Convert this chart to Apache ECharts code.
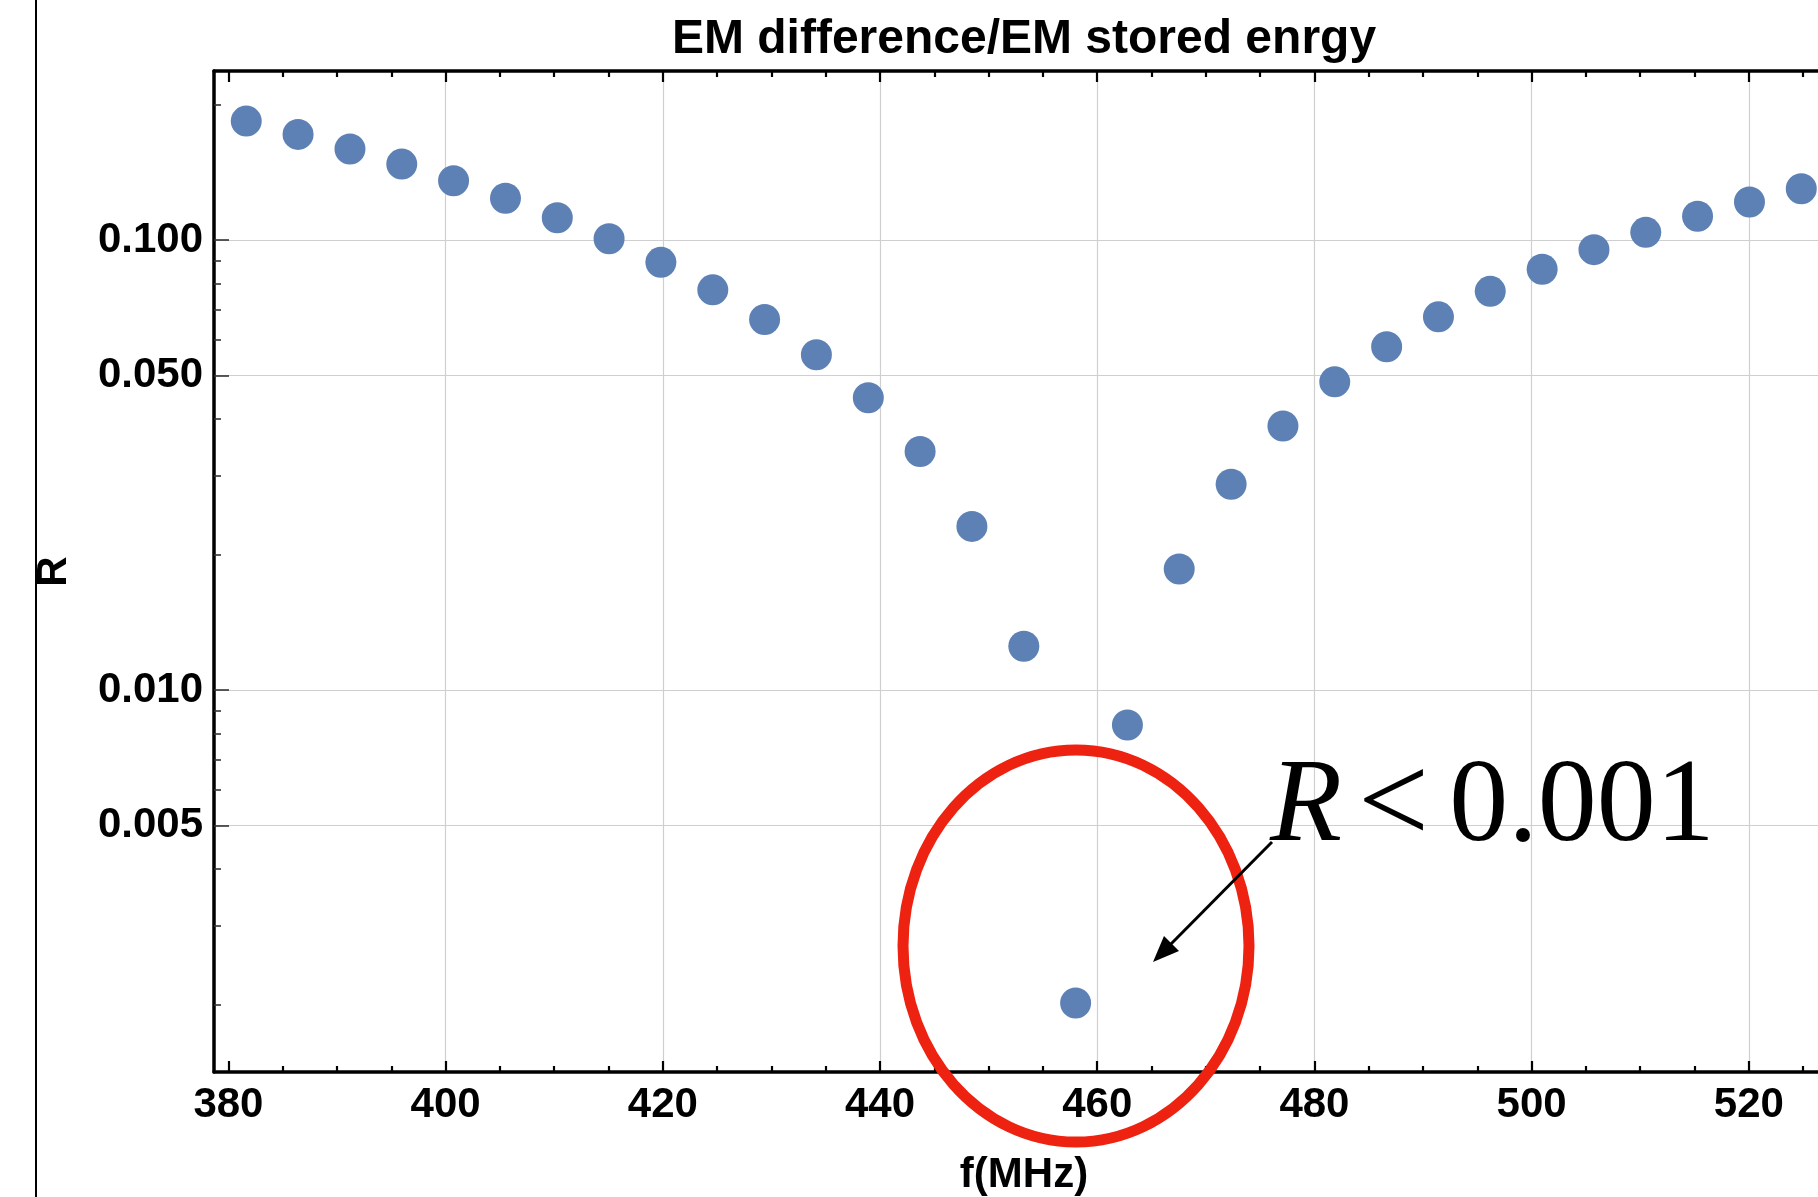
<!DOCTYPE html>
<html><head><meta charset="utf-8">
<script src="https://cdn.jsdelivr.net/npm/echarts@6/dist/echarts.min.js"></script>
<style>html,body{margin:0;padding:0;background:#fff}#c{width:1818px;height:1197px}</style>
</head><body><div id="c"></div>
<script>
// ---- data ----
const freqMHz = [381.64, 386.41, 391.19, 395.96, 400.73, 405.51, 410.28, 415.05, 419.82, 424.60,
  429.37, 434.14, 438.92, 443.69, 448.46, 453.24, 458.01, 462.78, 467.55, 472.33,
  477.10, 481.87, 486.65, 491.42, 496.19, 500.97, 505.74, 510.51, 515.28, 520.06, 524.83];
const ratioR = [0.1838, 0.1717, 0.1593, 0.1475, 0.1354, 0.1238, 0.1121, 0.1007, 0.0892, 0.0775,
  0.0666, 0.0556, 0.0446, 0.0339, 0.0231, 0.01251, 0.002015, 0.00836, 0.01857, 0.02865,
  0.0386, 0.0484, 0.0579, 0.0675, 0.0769, 0.0861, 0.0952, 0.1040, 0.1129, 0.1215, 0.1300];
const xMajorTicks = [380, 400, 420, 440, 460, 480, 500, 520];
const xMinorTicks = [385, 390, 395, 405, 410, 415, 425, 430, 435, 445, 450, 455, 465, 470, 475, 485, 490, 495, 505, 510, 515, 525];
const xGridTicks = [400, 420, 440, 460, 480, 500, 520];
const yMajorTicks = [0.1, 0.05, 0.01, 0.005];
const yMinorTicks = [0.2, 0.09, 0.08, 0.07, 0.06, 0.04, 0.03, 0.02, 0.009, 0.008, 0.007, 0.006, 0.004, 0.003, 0.002];
const titleText = 'EM difference/EM stored enrgy';
const xName = 'f(MHz)';
const yName = 'R';

const X_MIN = 378.67, X_MAX = 526.37;
const Y_MIN = 0.001416, Y_MAX = 0.2375;
const FONT = '"Liberation Sans", Arial, sans-serif';
const SERIF = '"Liberation Serif", serif';

const chart = echarts.init(document.getElementById('c'), null, {renderer: 'canvas'});

function xAx(o) {
  return Object.assign({
    type: 'value', min: X_MIN, max: X_MAX, gridIndex: 0, position: 'bottom',
    axisLine: {show: false}, axisTick: {show: false}, axisLabel: {show: false}, splitLine: {show: false}
  }, o);
}
function yAx(o) {
  return Object.assign({
    type: 'log', logBase: 10, min: Y_MIN, max: Y_MAX, gridIndex: 0, position: 'left',
    axisLine: {show: false}, axisTick: {show: false}, axisLabel: {show: false}, splitLine: {show: false}
  }, o);
}
const axisLineStyle = {show: true, onZero: false, lineStyle: {color: '#000', width: 3.5}};
const xTickStyle = {color: '#000', width: 2.2};
const yTickStyle = {color: '#333', width: 1.6};

chart.setOption({
  animation: false,
  backgroundColor: '#fff',
  title: {
    text: titleText, left: 1024, top: 16, textAlign: 'center', padding: 0,
    textStyle: {fontFamily: FONT, fontWeight: 'bold', fontSize: 48, color: '#000'}
  },
  grid: {left: 214, right: 0, top: 71, bottom: 125, containLabel: false, outerBoundsMode: 'none'},
  xAxis: [
    xAx({
      axisLine: axisLineStyle,
      axisTick: {show: true, inside: true, length: 11, customValues: xMajorTicks, lineStyle: xTickStyle},
      axisLabel: {show: true, customValues: xMajorTicks, margin: 12, fontFamily: FONT, fontWeight: 'bold', fontSize: 42, color: '#000'},
      name: xName, nameLocation: 'middle', nameGap: 82,
      nameTextStyle: {fontFamily: FONT, fontWeight: 'bold', fontSize: 42, color: '#000', padding: [0, 0, 0, 16]}
    }),
    xAx({axisTick: {show: true, inside: true, length: 6, customValues: xMinorTicks, lineStyle: xTickStyle}}),
    xAx({position: 'top', axisLine: axisLineStyle,
      axisTick: {show: true, inside: true, length: 11, customValues: xMajorTicks, lineStyle: xTickStyle}}),
    xAx({position: 'top', axisTick: {show: true, inside: true, length: 6, customValues: xMinorTicks, lineStyle: xTickStyle}}),
    xAx({axisTick: {show: false, customValues: xGridTicks}, splitLine: {show: true, lineStyle: {color: '#cfcfcf', width: 1.2}}})
  ],
  yAxis: [
    yAx({
      axisLine: axisLineStyle,
      axisTick: {show: true, inside: true, length: 15, customValues: yMajorTicks, lineStyle: yTickStyle},
      axisLabel: {show: true, customValues: yMajorTicks, margin: 11, fontFamily: FONT, fontWeight: 'bold', fontSize: 42, color: '#000',
        formatter: v => Number(v).toFixed(3)},
      splitLine: {show: true, lineStyle: {color: '#cfcfcf', width: 1.2}},
      name: yName, nameLocation: 'middle', nameRotate: 90, nameGap: 139,
      nameTextStyle: {fontFamily: FONT, fontWeight: 'bold', fontSize: 42, color: '#000'}
    }),
    yAx({axisTick: {show: true, inside: true, length: 7, customValues: yMinorTicks, lineStyle: yTickStyle}})
  ],
  series: [{
    type: 'scatter', xAxisIndex: 0, yAxisIndex: 0,
    symbol: 'circle', symbolSize: 31,
    itemStyle: {color: '#5E81B5', opacity: 1},
    data: freqMHz.map((f, i) => [f, ratioR[i]]),
    z: 3
  }],
  graphic: [
    {type: 'line', shape: {x1: 36, y1: 0, x2: 36, y2: 1197}, style: {stroke: '#000', lineWidth: 2}, z: 10},
    {type: 'ellipse', shape: {cx: 1076, cy: 946, rx: 173, ry: 196}, style: {fill: 'none', stroke: '#ee2211', lineWidth: 11}, z: 20},
    {type: 'line', shape: {x1: 1272, y1: 842, x2: 1168, y2: 947}, style: {stroke: '#000', lineWidth: 3}, z: 21},
    {type: 'polygon', shape: {points: [[1153, 962], [1179, 951], [1164, 936]]}, style: {fill: '#000'}, z: 21},
    {type: 'text', x: 1270, y: 809, z: 21, style: {
      text: '{i|R}{o|<}{n|0.001}', align: 'left', verticalAlign: 'middle',
      rich: {
        i: {fontFamily: SERIF, fontStyle: 'italic', fontSize: 118, fill: '#000'},
        o: {fontFamily: SERIF, fontSize: 126, fill: '#000', padding: [0, 20, 0, 16]},
        n: {fontFamily: SERIF, fontSize: 118, fill: '#000'}
      }
    }}
  ]
});
</script></body></html>
